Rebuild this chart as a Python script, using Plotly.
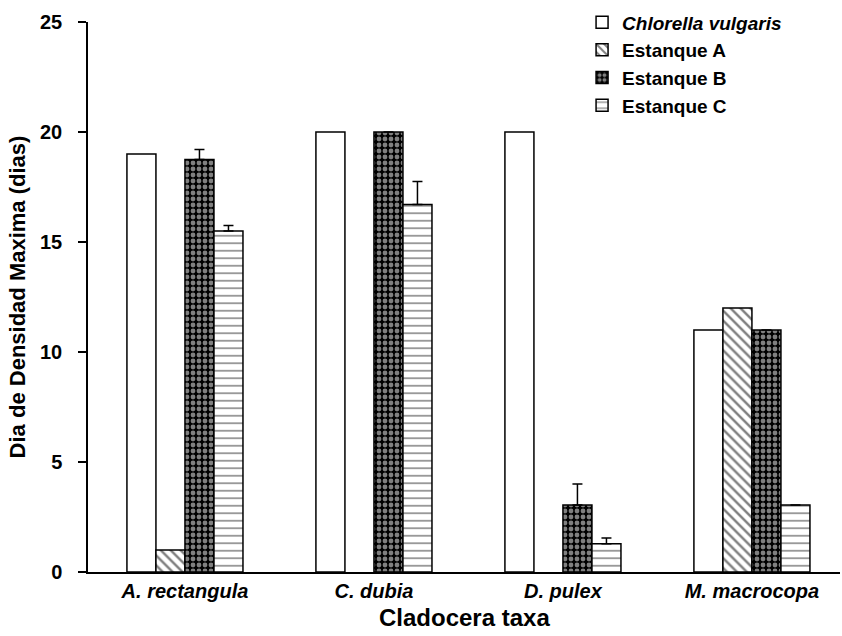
import plotly.graph_objects as go

categories = ["A. rectangula", "C. dubia", "D. pulex", "M. macrocopa"]
series_names = ["<i>Chlorella vulgaris</i>", "Estanque A", "Estanque B", "Estanque C"]
chlorella = [19, 20, 20, 11]
estanque_a = [1, None, None, 12]
estanque_b = [18.75, 20, 3.05, 11]
estanque_c = [15.5, 16.7, 1.28, 3.05]
err_b = [0.45, 0, 0.95, 0]
err_c = [0.25, 1.05, 0.27, 0]
y_ticks = [0, 5, 10, 15, 20, 25]
x_title = "Cladocera taxa"
y_title = "Dia de Densidad Maxima (dias)"

FONT = "Liberation Sans, Arial, sans-serif"
line = dict(color="black", width=1.5)

fig = go.Figure()
fig.add_bar(name=series_names[0], x=categories, y=chlorella,
            marker=dict(color="white", line=line))
fig.add_bar(name=series_names[1], x=categories, y=estanque_a,
            marker=dict(color="white", line=line,
                        pattern=dict(shape="\\", fgcolor="black", bgcolor="white",
                                     size=7, solidity=0.35)))
fig.add_bar(name=series_names[2], x=categories, y=estanque_b,
            marker=dict(color="black", line=line,
                        pattern=dict(shape=".", fgcolor="white", bgcolor="black",
                                     size=6, solidity=0.5)),
            error_y=dict(type="data", symmetric=False, array=err_b,
                         arrayminus=[0] * len(err_b), color="black",
                         thickness=1.5, width=5))
fig.add_bar(name=series_names[3], x=categories, y=estanque_c,
            marker=dict(color="white", line=line,
                        pattern=dict(shape="-", fgcolor="black", bgcolor="white",
                                     size=7.5, solidity=0.2)),
            error_y=dict(type="data", symmetric=False, array=err_c,
                         arrayminus=[0] * len(err_c), color="black",
                         thickness=1.5, width=5))

fig.update_layout(
    width=842, height=636,
    margin=dict(l=88, r=2, t=22, b=64),
    paper_bgcolor="white", plot_bgcolor="white",
    barmode="group", bargap=0.386, bargroupgap=0,
    font=dict(family=FONT, color="black"),
    legend=dict(x=0.657, y=1.034, xanchor="left", yanchor="top",
                bgcolor="rgba(0,0,0,0)",
                font=dict(size=19, weight="bold", family=FONT),
                tracegroupgap=0, itemwidth=30),
    showlegend=True,
    annotations=[dict(text=x_title, xref="paper", yref="paper", x=0.5, y=-0.083,
                      xanchor="center", yanchor="middle", showarrow=False,
                      font=dict(size=24, weight="bold", family=FONT))],
)
fig.update_xaxes(
    range=[-0.513, 3.466], showline=True, linecolor="black", linewidth=1.5,
    ticks="", showgrid=False, zeroline=False, automargin=False,
    tickfont=dict(size=20, style="italic", weight="bold", family=FONT),
)
fig.update_yaxes(
    range=[0, 25], tickvals=y_ticks, showline=True, linecolor="black", linewidth=1.5,
    ticks="outside", ticklen=8, tickwidth=1.5, tickcolor="black",
    showgrid=False, zeroline=False, ticklabelstandoff=12, automargin=False,
    tickfont=dict(size=20, weight="bold", family=FONT),
    title=dict(text=y_title, font=dict(size=22, weight="bold", family=FONT), standoff=8),
)

fig.write_html("out.html", config={"displayModeBar": False},
               post_script="document.body.style.margin='0';")
